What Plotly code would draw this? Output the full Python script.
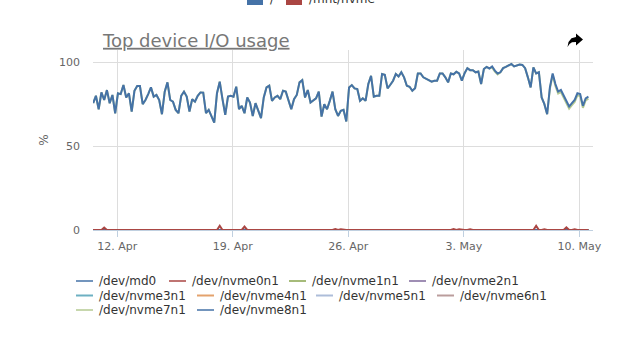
import pandas as pd
import plotly.graph_objects as go

# ---------------- data ----------------
start = "2021-04-10 13:00"
step_hours = 4

md0 = [
    75.6, 80, 72, 82, 77.5, 83.4, 75.6, 80.5, 69.6, 81.5,
    81, 86.4, 79, 81.5, 70.6, 83, 85.8, 85.8, 75, 77.5,
    81, 85, 79.5, 80.5, 77.5, 69, 82.5, 88, 77.5, 76.5,
    71.6, 69.6, 80, 82.5, 79.5, 70.6, 78, 76.5, 80, 82,
    81.9, 69.6, 71.6, 68, 64, 81.5, 88.4, 78, 68.6, 79.5,
    80, 79.5, 85.4, 72, 74, 69.6, 79, 76, 68, 75.6,
    71.6, 66.7, 79, 85, 86, 77, 79, 80, 78, 83,
    82.5, 76.5, 72, 78, 80.5, 88, 89.3, 79, 83.4, 76,
    77, 78.5, 82.5, 67.6, 75, 72, 77, 82.5, 72, 68,
    71, 71.6, 64.7, 85, 86.4, 84.4, 84, 77, 78.5, 77,
    87, 91.9, 79.5, 80, 80, 93, 92.5, 84.4, 86.6, 89,
    93, 91.5, 94, 91, 86, 85.4, 83, 84.5, 93.3, 93.3,
    91, 90, 89, 88.4, 89, 89, 93.3, 93.3, 91, 88,
    93.3, 92.8, 94.3, 93.3, 89, 93.5, 96.5, 95.3, 95.3, 94,
    94.5, 87, 96, 97.2, 96.3, 97.5, 95, 93.3, 94, 96.5,
    97.2, 98.2, 99, 97.5, 98.3, 98.6, 98.4, 96.5, 91, 85,
    97, 93.3, 94, 79, 75, 69, 85, 93.3, 87, 82.5,
    83.5, 80, 76.5, 73.6, 75.6, 77.5, 81.5, 81, 74, 78.5, 79.5,
]
N = len(md0)

# nvme0n1 sits at 0 with a few small bumps (index -> %)
nvme0n1_bumps = {
    4: 1.4, 46: 2.5, 55: 2.0, 88: 0.6, 90: 0.4, 96: 0.4, 101: 0.4, 104: 0.4,
    109: 0.4, 113: 0.4, 118: 0.4, 121: 0.4, 125: 0.4, 128: 0.4, 131: 0.6,
    133: 0.4, 137: 0.4, 140: 0.4, 143: 0.4, 146: 0.4, 149: 0.4, 152: 0.4,
    155: 0.4, 158: 0.4, 161: 2.5, 164: 0.4, 167: 0.4, 170: 0.4, 172: 1.6,
    175: 0.4, 178: 0.4,
}
# nvme7n1 runs just under md0; visible gap (in %) only near the end
nvme7n1_gap = {145: 0.6, 146: 0.6, 147: 0.6, 166: 0.8, 167: 0.8, 168: 1.2,
               169: 1.2, 170: 1.2, 171: 1.2, 172: 1.2, 173: 1.2, 174: 1.2,
               175: 1.2, 176: 1.2, 177: 1.2, 178: 1.2, 179: 1.2, 180: 1.2}

devices = ["/dev/md0", "/dev/nvme0n1", "/dev/nvme1n1", "/dev/nvme2n1",
           "/dev/nvme3n1", "/dev/nvme4n1", "/dev/nvme5n1", "/dev/nvme6n1",
           "/dev/nvme7n1", "/dev/nvme8n1"]
colors = ["#4572A7", "#AA4643", "#89A54E", "#80699B", "#3D96AE",
          "#DB843D", "#92A8CD", "#A47D7C", "#B5CA92", "#4572A7"]

x_ticks = ["2021-04-12", "2021-04-19", "2021-04-26", "2021-05-03", "2021-05-10"]
y_ticks = [0, 50, 100]

# ---------------- build series ----------------
times = pd.date_range(start, periods=N, freq=f"{step_hours}h")
series = {d: [0.0] * N for d in devices}
series["/dev/md0"] = md0
series["/dev/nvme0n1"] = [nvme0n1_bumps.get(i, 0.0) for i in range(N)]
series["/dev/nvme7n1"] = [v - nvme7n1_gap.get(i, 0.0) for i, v in enumerate(md0)]

# ---------------- geometry helpers (pixel -> paper) ----------------
W, H = 619, 339
L, R, T, B = 93, 593, 50, 230
def px(x):
    return (x - L) / (R - L)
def py(y):
    return (B - y) / (B - T)

font = "DejaVu Sans"

# drawing order: idle disks first, then nvme0n1, nvme7n1, md0 on top
draw_order = [d for d in devices if d not in ("/dev/md0", "/dev/nvme0n1", "/dev/nvme7n1")]
draw_order += ["/dev/nvme0n1", "/dev/nvme7n1", "/dev/md0"]

fig = go.Figure()
for d in draw_order:
    i = devices.index(d)
    fig.add_trace(go.Scatter(
        x=times, y=series[d], name=d, mode="lines",
        line=dict(color=colors[i], width=2), showlegend=False,
    ))

fig.update_layout(
    width=W, height=H,
    margin=dict(l=L, r=W - R, t=T, b=H - B, pad=0),
    paper_bgcolor="white", plot_bgcolor="white",
    font=dict(family=font, size=11, color="#666666"),
    showlegend=False,
    title=dict(text="<u>Top device I/O usage</u>", x=103 / W, xanchor="left",
               xref="container", y=1 - 40.5 / H, yanchor="middle", yref="container",
               font=dict(family=font, size=18, color="#777777")),
    xaxis=dict(type="date", range=["2021-04-10 12:45", "2021-05-10 19:40"],
               tickvals=x_ticks, tickformat="%-d. %b",
               ticks="outside", ticklen=6, tickcolor="#C0D0E0",
               showline=True, linecolor="#C0D0E0", linewidth=1,
               showgrid=True, gridcolor="#DDDDDD", gridwidth=1, zeroline=False,
               tickfont=dict(family=font, size=11, color="#666666")),
    yaxis=dict(range=[0, 107.3], tickvals=y_ticks, showgrid=True,
               gridcolor="#DDDDDD", gridwidth=1, zeroline=False, showline=False,
               ticks="", ticklabelstandoff=12,
               tickfont=dict(family=font, size=11, color="#666666"),
               title=dict(text="%", standoff=7,
                          font=dict(family=font, size=12, color="#666666"))),
)

# ---------------- legend (Highcharts style: short line + label, 3 rows) ----------------
legend_rows = [
    (281, [(0, 97), (1, 190), (2, 310), (3, 430)]),
    (295.5, [(4, 97), (5, 218), (6, 337), (7, 458)]),
    (310, [(8, 97), (9, 218)]),
]
for ycen, items in legend_rows:
    for idx, xt in items:
        fig.add_shape(type="line", xref="paper", yref="paper",
                      x0=px(xt - 21), x1=px(xt - 4), y0=py(ycen), y1=py(ycen),
                      line=dict(color=colors[idx], width=2), opacity=0.75)
        fig.add_annotation(xref="paper", yref="paper", x=px(xt), y=py(ycen),
                           xanchor="left", yanchor="middle", text=devices[idx],
                           showarrow=False,
                           font=dict(family=font, size=12, color="#333333"))

# cut-off legend of the chart above (only its bottom edge is in view)
for x0, x1, c in [(247, 263, "#4572A7"), (286, 302, "#AA4643")]:
    fig.add_shape(type="rect", xref="paper", yref="paper",
                  x0=px(x0), x1=px(x1), y0=py(5), y1=py(-10),
                  fillcolor=c, line=dict(width=0), layer="above")
for xt, txt in [(268, "/"), (307, "/mnt/nvme")]:
    fig.add_annotation(xref="paper", yref="paper", x=px(xt), y=py(8),
                       xanchor="left", yanchor="bottom", text=txt, showarrow=False,
                       font=dict(family=font, size=12, color="#333333"))

# export icon (curved "share" arrow)
icon = [(576, 33.5), (583, 39.5), (576, 45.5), (576, 42), (572, 42.3),
        (569.5, 44), (567.5, 47), (568.5, 42), (571.5, 38.3), (576, 37)]
path = "M " + " L ".join(f"{px(a):.5f},{py(b):.5f}" for a, b in icon) + " Z"
fig.add_shape(type="path", xref="paper", yref="paper", path=path,
              fillcolor="#000000", line=dict(width=0))

fig.write_html("out.html")
